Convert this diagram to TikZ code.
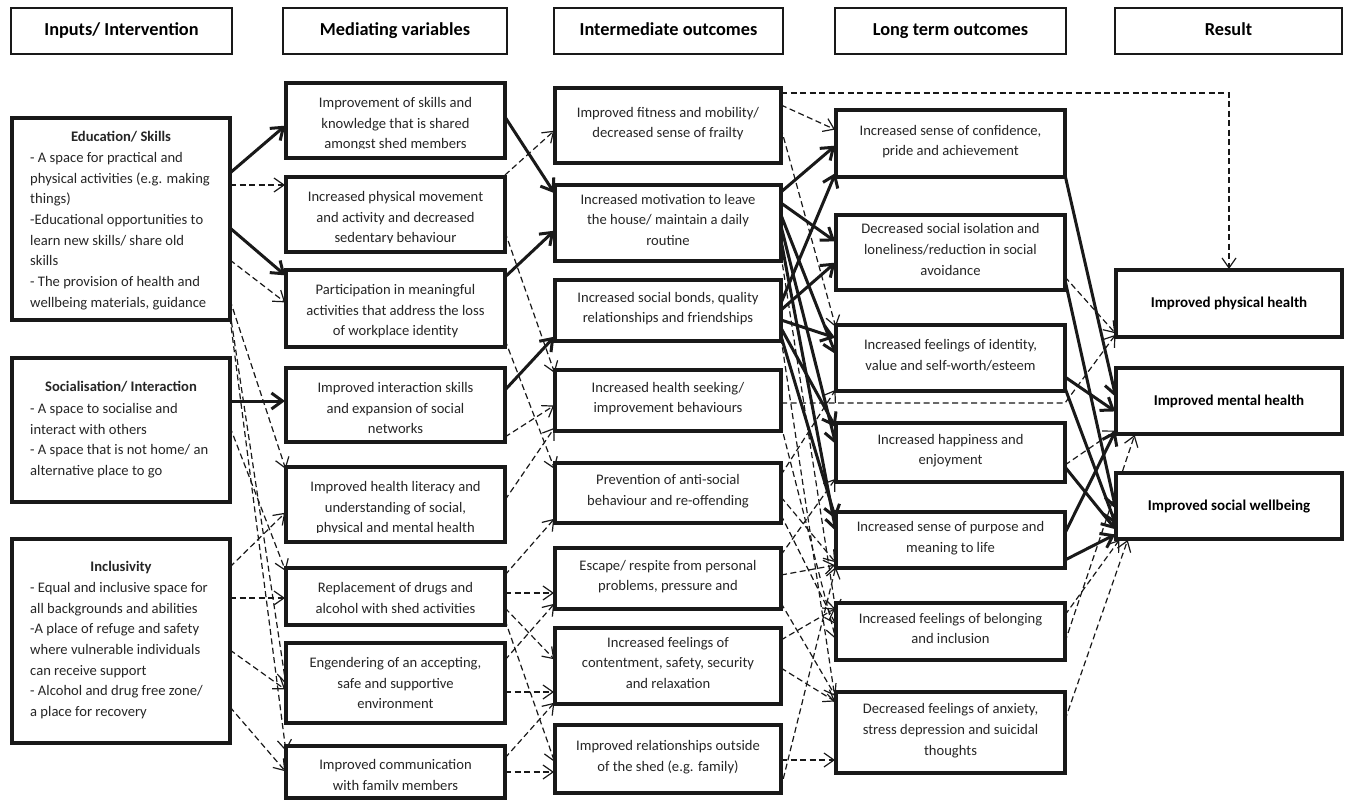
\documentclass[tikz,border=0pt]{standalone}
\usepackage{fontspec}
\setmainfont{Carlito}
\usetikzlibrary{arrows.meta,backgrounds}
\tikzset{
  box/.style={draw=black!90, line width=3.5pt, fill=white, inner sep=0pt, outer sep=0pt},
  hbox/.style={box, line width=2.8pt},
  txt/.style={inner sep=0pt, align=center, text=black!85,
    font=\fontsize{14.6}{20.7}\selectfont,
    execute at begin node=\strut, execute at end node=\strut},
  ltxt/.style={txt, align=left},
  ttl/.style={txt, font=\fontsize{14.6}{20.7}\selectfont\bfseries},
  htxt/.style={txt, text=black, font=\fontsize{18.3}{22}\selectfont\bfseries},
  rtxt/.style={txt, text=black, font=\fontsize{15}{20}\selectfont\bfseries},
  sarr/.style={line width=3pt, black!90, -{Straight Barb[length=11pt,width=16pt]}, shorten >=1pt},
  darr/.style={line width=1.2pt, black!90, dash pattern=on 6pt off 3.5pt, -{Straight Barb[length=10pt,width=14pt]}, shorten >=1pt},
}
\newcommand\boxat[6]{\node[#1, minimum width=#4pt-#2pt, minimum height=#5pt-#3pt] (#6) at ({(#2+#4)/2},{(#3+#5)/2}) {};}
\begin{document}
\begin{tikzpicture}[x=1pt,y=-1pt]
\useasboundingbox (0,0) rectangle (1346,800);

% headers
\boxat{hbox}{11}{8}{232}{54}{h1}
\boxat{hbox}{283}{8}{507}{54}{h2}
\boxat{hbox}{554}{8}{783}{54}{h3}
\boxat{hbox}{835}{8}{1066}{54}{h4}
\boxat{hbox}{1115}{8}{1342}{54}{h5}
\node[htxt] (h1t) at (h1) {Inputs/ Intervention};
\node[htxt] (h2t) at (h2) {Mediating variables};
\node[htxt] (h3t) at (h3) {Intermediate outcomes};
\node[htxt] (h4t) at (h4) {Long term outcomes};
\node[htxt] (h5t) at (h5) {Result};

% column 1
\boxat{box}{12}{118}{230}{320}{edu}
\boxat{box}{12}{358}{230}{502}{soc}
\boxat{box}{12}{539}{230}{743}{inc}
\node[ttl] (edut) at (121,137) {Education/ Skills};
\node[ltxt, anchor=north west] (edub) at (30,152) {- A space for practical and\\physical activities (e.g. making\\things)\\-Educational opportunities to\\learn new skills/ share old\\skills\\- The provision of health and\\wellbeing materials, guidance};
\node[ttl] (soct) at (121,387) {Socialisation/ Interaction};
\node[ltxt, anchor=north west] (socb) at (30,403) {- A space to socialise and\\interact with others\\- A space that is not home/ an\\alternative place to go};
\node[ttl] (inct) at (121,567) {Inclusivity};
\node[ltxt, anchor=north west] (incb) at (30,582) {- Equal and inclusive space for\\all backgrounds and abilities\\-A place of refuge and safety\\where vulnerable individuals\\can receive support\\- Alcohol and drug free zone/\\a place for recovery};

% column 2
\boxat{box}{286}{83}{505}{158}{m1}
\boxat{box}{286}{177}{505}{252}{m2}
\boxat{box}{286}{270}{505}{347}{m3}
\boxat{box}{286}{368}{505}{442}{m4}
\boxat{box}{286}{467}{505}{542}{m5}
\boxat{box}{286}{568}{505}{625}{m6}
\boxat{box}{286}{643}{505}{723}{m7}
\boxat{box}{286}{746}{505}{798}{m8}
\begin{scope}
\clip (m1.north west) rectangle ([yshift=10pt]m1.south east);
\node[txt, anchor=north] (m1t) at ([yshift=-14pt]m1.north) {Improvement of skills and\\knowledge that is shared\\amongst shed members};
\end{scope}
\begin{scope}
\clip (m2.north west) rectangle ([yshift=9.5pt]m2.south east);
\node[txt, anchor=north] (m2t) at ([yshift=-14pt]m2.north) {Increased physical movement\\and activity and decreased\\sedentary behaviour};
\end{scope}
\begin{scope}
\clip (m3.north west) rectangle ([yshift=9.5pt]m3.south east);
\node[txt, anchor=north] (m3t) at ([yshift=-14pt]m3.north) {Participation in meaningful\\activities that address the loss\\of workplace identity};
\end{scope}
\node[txt, anchor=north] (m4t) at ([yshift=-14pt]m4.north) {Improved interaction skills\\and expansion of social\\networks};
\begin{scope}
\clip (m5.north west) rectangle ([yshift=9.5pt]m5.south east);
\node[txt, anchor=north] (m5t) at ([yshift=-14pt]m5.north) {Improved health literacy and\\understanding of social,\\physical and mental health};
\end{scope}
\node[txt, anchor=north] (m6t) at ([yshift=-14pt]m6.north) {Replacement of drugs and\\alcohol with shed activities};
\node[txt, anchor=north] (m7t) at ([yshift=-14pt]m7.north) {Engendering of an accepting,\\safe and supportive\\environment};
\begin{scope}
\clip (m8.north west) rectangle ([yshift=8.5pt]m8.south east);
\node[txt, anchor=north] (m8t) at ([yshift=-13pt]m8.north) {Improved communication\\with family members};
\end{scope}

% column 3
\boxat{box}{555}{88}{781}{163}{i1}
\boxat{box}{555}{185}{781}{261}{i2}
\boxat{box}{555}{280}{781}{341}{i3}
\boxat{box}{555}{370}{781}{431}{i4}
\boxat{box}{555}{463}{781}{523}{i5}
\boxat{box}{555}{548}{781}{609}{i6}
\boxat{box}{555}{628}{781}{704}{i7}
\boxat{box}{555}{725}{781}{793}{i8}
\node[txt] (i1t) at (i1) {Improved fitness and mobility/\\decreased sense of frailty};
\node[txt] (i2t) at (i2) {Increased motivation to leave\\the house/ maintain a daily\\routine};
\node[txt] (i3t) at (i3) {Increased social bonds, quality\\relationships and friendships};
\node[txt] (i4t) at (i4) {Increased health seeking/\\improvement behaviours};
\node[txt] (i5t) at (i5) {Prevention of anti-social\\behaviour and re-offending};
\node[txt] (i6t) at (i6) {Escape/ respite from personal\\problems, pressure and};
\node[txt] (i7t) at (i7) {Increased feelings of\\contentment, safety, security\\and relaxation};
\node[txt] (i8t) at (i8) {Improved relationships outside\\of the shed (e.g. family)};

% column 4
\boxat{box}{836}{110}{1065}{177}{l1}
\boxat{box}{836}{215}{1065}{290}{l2}
\boxat{box}{836}{325}{1065}{391}{l3}
\boxat{box}{836}{423}{1065}{482}{l4}
\boxat{box}{836}{512}{1065}{568}{l5}
\boxat{box}{836}{603}{1065}{660}{l6}
\boxat{box}{836}{692}{1065}{773}{l7}
\node[txt] (l1t) at (l1) {Increased sense of confidence,\\pride and achievement};
\node[txt] (l2t) at (l2) {Decreased social isolation and\\loneliness/reduction in social\\avoidance};
\node[txt] (l3t) at (l3) {Increased feelings of identity,\\value and self-worth/esteem};
\node[txt] (l4t) at (l4) {Increased happiness and\\enjoyment};
\node[txt] (l5t) at (l5) {Increased sense of purpose and\\meaning to life};
\node[txt] (l6t) at (l6) {Increased feelings of belonging\\and inclusion};
\node[txt] (l7t) at (l7) {Decreased feelings of anxiety,\\stress depression and suicidal\\thoughts};

% column 5
\boxat{box}{1116}{270}{1342}{337}{r1}
\boxat{box}{1116}{368}{1342}{434}{r2}
\boxat{box}{1116}{473}{1342}{539}{r3}
\node[rtxt] (r1t) at (r1) {Improved physical health};
\node[rtxt] (r2t) at (r2) {Improved mental health};
\node[rtxt] (r3t) at (r3) {Improved social wellbeing};

\begin{scope}[on background layer]
% solid
\draw[sarr] (edu.east |- 0,173) -- (m1.west |- 0,125);
\draw[sarr] (edu.east |- 0,228) -- (m3.west |- 0,276);
\draw[sarr] (soc.east |- 0,401) -- (m4.west |- 0,401);
\draw[sarr] (m1.east |- 0,117) -- (i2.west |- 0,194);
\draw[sarr] (m3.east |- 0,277) -- (i2.west |- 0,230);
\draw[sarr] (m4.east |- 0,390) -- (i3.west |- 0,336);
\draw[sarr] (i2.east |- 0,192) -- (l1.west |- 0,145);
\draw[sarr] (i3.east |- 0,303) -- (l1.west |- 0,172);
\draw[sarr] (i2.east |- 0,203) -- (l2.west |- 0,242);
\draw[sarr] (i3.east |- 0,310) -- (l2.west |- 0,262);
\draw[sarr] (i2.east |- 0,215) -- (l3.west |- 0,355);
\draw[sarr] (i2.east |- 0,226) -- (l4.west |- 0,445);
\draw[sarr] (i2.east |- 0,240) -- (l5.west |- 0,532);
\draw[sarr] (i3.east |- 0,320) -- (l3.west |- 0,338);
\draw[sarr] (i3.east |- 0,328) -- (l4.west |- 0,428);
\draw[sarr] (i3.east |- 0,336) -- (l5.west |- 0,520);
\draw[sarr] (l1.east |- 0,175) -- (r2.west |- 0,398);
\draw[sarr] (l2.east |- 0,280) -- (r3.west |- 0,510);
\draw[sarr] (l3.east |- 0,377) -- (r2.west |- 0,412);
\draw[sarr] (l3.east |- 0,388) -- (r3.west |- 0,525);
\draw[sarr] (l4.east |- 0,467) -- (r3.west |- 0,530);
\draw[sarr] (l5.east |- 0,533) -- (r2.west |- 0,430);
\draw[sarr] (l5.east |- 0,560) -- (r3.west |- 0,534);
% dashed col1 -> col2
\draw[darr] (edu.east |- 0,185) -- (m2.west |- 0,185);
\draw[darr] (edu.east |- 0,260) -- (m3.west |- 0,303);
\draw[darr] (edu.east |- 0,300) -- (m5.west |- 0,470);
\draw[darr] (edu.east |- 0,312) -- (m7.west |- 0,685);
\draw[darr] (edu.east |- 0,318) -- (m8.west |- 0,752);
\draw[darr] (soc.east |- 0,427) -- (m6.west |- 0,572);
\draw[darr] (inc.east |- 0,567) -- (m5.west |- 0,512);
\draw[darr] (inc.east |- 0,598) -- (m6.west |- 0,598);
\draw[darr] (inc.east |- 0,650) -- (m7.west |- 0,690);
\draw[darr] (inc.east |- 0,707) -- (m8.west |- 0,772);
% dashed col2 -> col3
\draw[darr] (m2.east |- 0,175) -- (i1.west |- 0,130);
\draw[darr] (m2.east |- 0,232) -- (i4.west |- 0,374);
\draw[darr] (m3.east |- 0,340) -- (i5.west |- 0,470);
\draw[darr] (m4.east |- 0,437) -- (i4.west |- 0,405);
\draw[darr] (m5.east |- 0,500) -- (i4.west |- 0,427);
\draw[darr] (m6.east |- 0,575) -- (i5.west |- 0,518);
\draw[darr] (m6.east |- 0,593) -- (i6.west |- 0,593);
\draw[darr] (m6.east |- 0,608) -- (i7.west |- 0,660);
\draw[darr] (m6.east |- 0,620) -- (i8.west |- 0,763);
\draw[darr] (m7.east |- 0,660) -- (i6.west |- 0,603);
\draw[darr] (m7.east |- 0,692) -- (i7.west |- 0,692);
\draw[darr] (m8.east |- 0,758) -- (i7.west |- 0,702);
\draw[darr] (m8.east |- 0,772) -- (i8.west |- 0,772);
% dashed col3 -> col4 / col5
\draw[darr] (i1.east |- 0,93) -- (r1.north |- 0,93) -- (r1.north);
\draw[darr] (i1.east |- 0,105) -- (l1.west |- 0,130);
\draw[darr] (i1.east |- 0,128) -- (l3.west |- 0,328);
\draw[darr] (i2.east |- 0,255) -- (l6.west |- 0,612);
\draw[darr] (i3.east |- 0,338) -- (l7.west |- 0,705);
\draw[darr] (i4.east |- 0,403) -- (l3.east |- 0,403) -- (r1.west |- 0,334);
\draw[darr] (i4.east |- 0,425) -- (l6.west |- 0,640);
\draw[darr] (i5.east |- 0,475) -- (l3.west |- 0,389);
\draw[darr] (i5.east |- 0,497) -- (l5.west |- 0,563);
\draw[darr] (i5.east |- 0,515) -- (l6.west |- 0,625);
\draw[darr] (i6.east |- 0,555) -- (l4.west |- 0,478);
\draw[darr] (i6.east |- 0,575) -- (l5.west |- 0,565);
\draw[darr] (i6.east |- 0,603) -- (l7.west |- 0,697);
\draw[darr] (i7.east |- 0,640) -- (l6.west |- 0,608);
\draw[darr] (i7.east |- 0,668) -- (l7.west |- 0,702);
\draw[darr] (i8.east |- 0,760) -- (l7.west |- 0,760);
\draw[darr] (i8.east |- 0,788) -- (l5.west |- 0,566);
% dashed col4 -> col5
\draw[darr] (l2.east |- 0,277) -- (r1.west |- 0,334);
\draw[darr] (l4.east |- 0,465) -- (r2.west |- 0,430);
\draw[darr] (l6.east |- 0,642) -- ([xshift=19pt]r2.south west);
\draw[darr] (l6.east |- 0,615) -- ([xshift=4pt]r3.south west);
\draw[darr] (l7.east |- 0,720) -- ([xshift=12pt]r3.south west);
\end{scope}
\end{tikzpicture}
\end{document}
